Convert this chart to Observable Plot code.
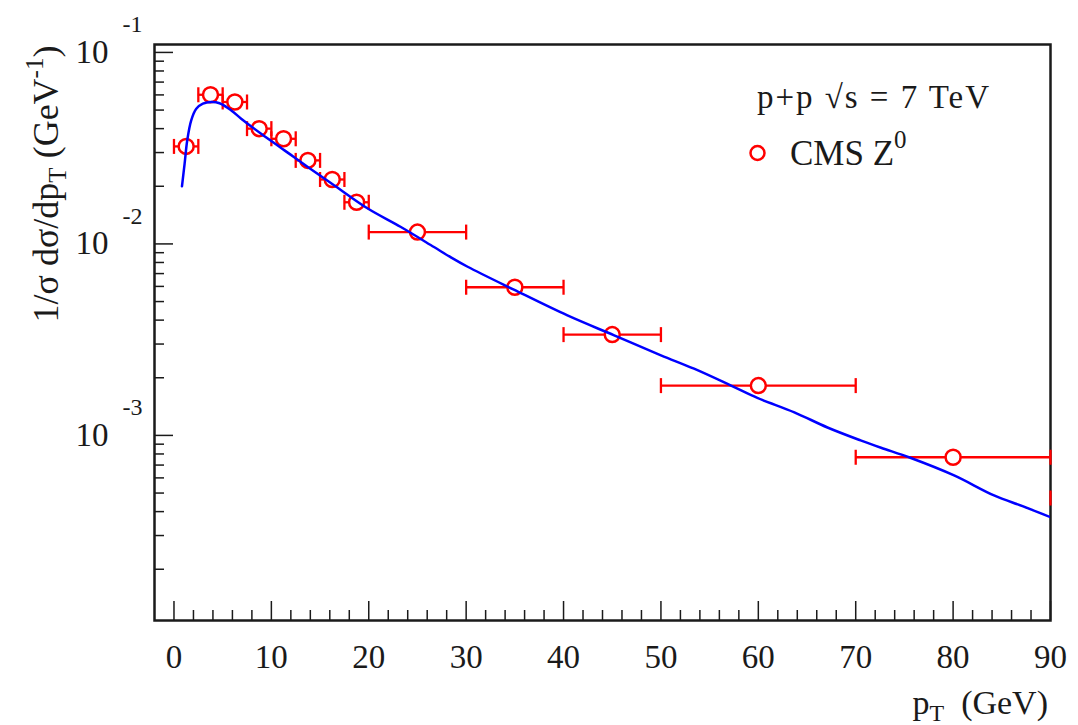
<!DOCTYPE html>
<html>
<head>
<meta charset="utf-8">
<script src="https://cdn.jsdelivr.net/npm/d3@7"></script>
<script src="https://cdn.jsdelivr.net/npm/@observablehq/plot@0.6"></script>
<style>
  body { margin: 0; background: #fff; }
  svg text { font-family: "Liberation Serif", "DejaVu Serif", serif; }
</style>
</head>
<body>
<div id="chart"></div>
<script>
// CMS Z0 normalized transverse-momentum spectrum, p+p at sqrt(s) = 7 TeV
const binCenter = [1.25, 3.75, 6.25, 8.75, 11.25, 13.75, 16.25, 18.75, 25, 35, 45, 60, 80, 100];
const binLow    = [0, 2.5, 5, 7.5, 10, 12.5, 15, 17.5, 20, 30, 40, 50, 70, 90];
const binHigh   = [2.5, 5, 7.5, 10, 12.5, 15, 17.5, 20, 30, 40, 50, 70, 90, 110];
const cmsValue  = [0.0323, 0.0601, 0.0551, 0.0400, 0.0354, 0.0273, 0.0217, 0.0165,
                   0.01153, 0.00594, 0.00336, 0.00182, 0.000769, 0.000471];

// model curve
const curvePt    = [0.82, 1.09, 1.36, 1.77, 2.29, 2.97, 3.83, 4.68, 5.88, 6.9, 8.95, 11.35,
                    13.74, 16.47, 19.9, 23.3, 26.7, 28.4, 30.15, 34.9, 40.4, 45.2, 50, 53.4,
                    57.2, 59.9, 63.7, 67.1, 70.5, 72.6, 75.6, 80.1, 84.2, 87.2, 90];
const curveValue = [0.0200, 0.0262, 0.0347, 0.0442, 0.0508, 0.0540, 0.0551, 0.0543, 0.0498,
                    0.0451, 0.0376, 0.0308, 0.0252, 0.0202, 0.0153, 0.01225, 0.00963, 0.00853,
                    0.0076, 0.00577, 0.00423, 0.00333, 0.00262, 0.00223, 0.00182, 0.00157,
                    0.00132, 0.00110, 0.000942, 0.000862, 0.000764, 0.000618, 0.000486,
                    0.000426, 0.000374];

// axis ticks
const xMajorTicks = [0, 10, 20, 30, 40, 50, 60, 70, 80, 90];
const xMinorTicks = d3.range(2, 90, 2).filter(v => v % 10 !== 0);
const yMajorTicks = [1e-1, 1e-2, 1e-3];
const yMajorExponents = ["-1", "-2", "-3"];
const yMinorTicks = [
  ...[2, 3, 4, 5, 6, 7, 8, 9].map(k => k * 1e-2),
  ...[2, 3, 4, 5, 6, 7, 8, 9].map(k => k * 1e-3),
  ...[2, 3, 4, 5, 6, 7, 8, 9].map(k => k * 1e-4)
];

const cms = binCenter.map((x, i) => ({x, lo: binLow[i], hi: binHigh[i], v: cmsValue[i]}));
const curve = curvePt.map((x, i) => ({x, v: curveValue[i]}));

const W = 1078, H = 725;
const mL = 154, mR = 28, mT = 44, mB = 105;
const frameW = W - mL - mR, frameH = H - mT - mB;
const xMax = 90;

const RED = "#ff0000", BLUE = "#0000ff", INK = "#1a1a1a";
const FONT = "Liberation Serif";

// vertical bar used as an error-bar end cap
const capSymbol = {
  draw(context, size) {
    const h = Math.sqrt(size / Math.PI);
    context.moveTo(0, -h);
    context.lineTo(0, h);
  }
};

const chart = Plot.plot({
  width: W,
  height: H,
  marginLeft: mL, marginRight: mR, marginTop: mT, marginBottom: mB,
  style: {fontFamily: FONT, background: "white", color: INK},
  x: {domain: [-2, xMax], axis: null},
  y: {type: "log", domain: [1.08e-4, 0.11], axis: null},
  marks: [
    // inward tick marks
    Plot.tickX(xMajorTicks, {x: d => d, insetTop: frameH - 19, stroke: INK, strokeWidth: 1.5}),
    Plot.tickX(xMinorTicks, {x: d => d, insetTop: frameH - 10, stroke: INK, strokeWidth: 1.5}),
    Plot.tickY(yMajorTicks, {y: d => d, insetRight: frameW - 19, stroke: INK, strokeWidth: 1.5}),
    Plot.tickY(yMinorTicks, {y: d => d, insetRight: frameW - 10, stroke: INK, strokeWidth: 1.5}),
    Plot.frame({stroke: INK, strokeWidth: 2.5}),

    // x tick labels
    Plot.axisX({ticks: xMajorTicks, tickSize: 0, tickPadding: 24, fontSize: 33, label: null,
                tickFormat: d => String(d)}),
    // y tick labels: 10 with exponent
    Plot.text(yMajorTicks, {y: d => d, frameAnchor: "left", text: () => "10",
                textAnchor: "end", dx: -46, fontSize: 33, fill: INK}),
    Plot.text(yMajorTicks, {y: d => d, frameAnchor: "left", text: (d, i) => yMajorExponents[i],
                textAnchor: "start", dx: -32, dy: -28, fontSize: 24, fill: INK}),

    // CMS data: horizontal bin-width bars with end caps
    Plot.ruleY(cms, {y: "v", x1: "lo", x2: "hi", stroke: RED, strokeWidth: 2.3, clip: true}),
    Plot.dot(cms, {x: "lo", y: "v", filter: d => d.lo <= xMax, symbol: capSymbol, r: 7.5,
                   stroke: RED, fill: "none", strokeWidth: 2.3}),
    Plot.dot(cms, {x: "hi", y: "v", filter: d => d.hi <= xMax, symbol: capSymbol, r: 7.5,
                   stroke: RED, fill: "none", strokeWidth: 2.3}),
    Plot.dot(cms, {x: "x", y: "v", r: 7.5, stroke: RED, fill: "white", strokeWidth: 2.5, clip: true}),

    // model curve
    Plot.line(curve, {x: "x", y: "v", stroke: BLUE, strokeWidth: 2.5, curve: "catmull-rom", clip: true}),

    // legend marker
    Plot.dot([0], {frameAnchor: "top-left", dx: 757 - mL, dy: 152.5 - mT, r: 7,
                   stroke: RED, fill: "none", strokeWidth: 2.5})
  ]
});

document.getElementById("chart").appendChild(chart);
const svg = d3.select(chart);

// legend texts
svg.append("text")
  .attr("x", 757).attr("y", 108)
  .attr("text-anchor", "start")
  .attr("font-size", 33).attr("fill", INK)
  .attr("textLength", 232).attr("lengthAdjust", "spacing")
  .text("p+p √s = 7 TeV");

const cmsLabel = svg.append("text")
  .attr("x", 790).attr("y", 165)
  .attr("text-anchor", "start")
  .attr("font-size", 35).attr("fill", INK);
cmsLabel.append("tspan").text("CMS Z");
cmsLabel.append("tspan").attr("font-size", 25).attr("dy", -17).text("0");

// y axis title
const yTitle = svg.append("text")
  .attr("transform", "translate(58,184) rotate(-90)")
  .attr("text-anchor", "middle")
  .attr("font-size", 36).attr("fill", INK);
yTitle.append("tspan").text("1/σ dσ/dp");
yTitle.append("tspan").attr("font-size", 25).attr("dy", 8).text("T");
yTitle.append("tspan").attr("dy", -8).text(" (GeV");
yTitle.append("tspan").attr("font-size", 25).attr("dy", -15).text("-1");
yTitle.append("tspan").attr("dy", 15).text(")");

// x axis title
const xTitle = svg.append("text")
  .attr("x", 1048).attr("y", 714)
  .attr("text-anchor", "end")
  .attr("font-size", 34).attr("fill", INK);
xTitle.append("tspan").text("p");
xTitle.append("tspan").attr("font-size", 24).attr("dy", 7).text("T");
xTitle.append("tspan").attr("dy", -7).text("\u00a0 (GeV)");
</script>
</body>
</html>
